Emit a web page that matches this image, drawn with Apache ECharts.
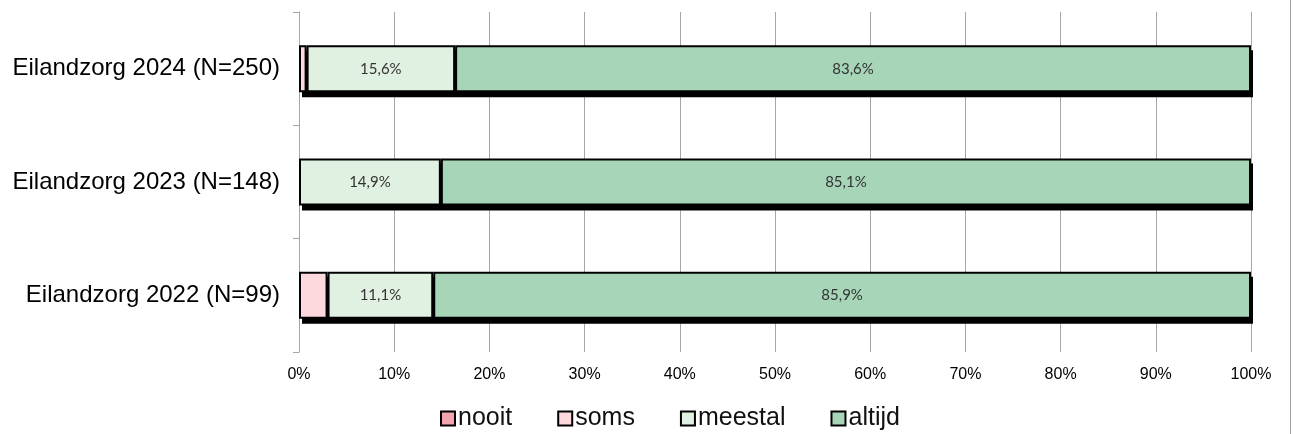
<!DOCTYPE html>
<html><head><meta charset="utf-8">
<script src="https://cdn.jsdelivr.net/npm/echarts@6/dist/echarts.min.js"></script>
<style>html,body{margin:0;padding:0;background:#fff}#c{width:1293px;height:434px}</style>
</head><body><div id="c"></div>
<script>
const categories = ['Eilandzorg 2024 (N=250)', 'Eilandzorg 2023 (N=148)', 'Eilandzorg 2022 (N=99)'];
const seriesNames = ['nooit', 'soms', 'meestal', 'altijd'];
const nooit = [0, 0, 0];
const soms = [0.8, 0, 3.0];
const meestal = [15.6, 14.9, 11.1];
const altijd = [83.6, 85.1, 85.9];
const xTicks = [0, 10, 20, 30, 40, 50, 60, 70, 80, 90, 100];
const colors = ['#F4A3B3', '#FDD9DE', '#E0F0E1', '#A6D5B8'];
const values = [nooit, soms, meestal, altijd];
const labelMin = 10;
const BAR_H = 47;

const totals = categories.map((c, i) => values.reduce((s, arr) => s + arr[i], 0));

const chart = echarts.init(document.getElementById('c'), null, {renderer: 'canvas'});
const barSeries = seriesNames.map((n, i) => ({
  name: n, type: 'bar', stack: 'a', barWidth: BAR_H, z: 3,
  data: values[i].map(v => v === 0 ? '-' : v),
  itemStyle: {color: colors[i], borderColor: '#000', borderWidth: 2},
  label: {show: true, position: 'inside', fontFamily: 'Lato', fontSize: 15, color: '#333',
    formatter: p => p.value >= labelMin ? p.value.toFixed(1).replace('.', ',') + '%' : ''},
  emphasis: {disabled: true}
}));
const shadowSeries = {
  type: 'custom', z: 2, silent: true,
  data: totals.map((t, i) => [t, i]),
  encode: {x: 0, y: 1},
  renderItem: (params, api) => {
    const p0 = api.coord([0, api.value(1)]);
    const p1 = api.coord([api.value(0), api.value(1)]);
    return {type: 'rect', shape: {x: p0[0] + 3, y: p0[1] - BAR_H / 2 + 5, width: p1[0] - p0[0] - 1, height: BAR_H},
      style: {fill: '#000'}};
  }
};
chart.setOption({
  animation: false,
  grid: {left: 299, right: 42, top: 12, bottom: 82},
  legend: {top: 401, left: 435, itemGap: 45, itemWidth: 14, itemHeight: 14, icon: 'rect',
    data: seriesNames.map((n, i) => ({name: n, itemStyle: {color: colors[i], borderColor: '#000', borderWidth: 2}})),
    textStyle: {fontFamily: 'Liberation Sans', fontSize: 25, color: '#111', padding: [0, 0, 0, -2]}},
  xAxis: {type: 'value', min: xTicks[0], max: xTicks[xTicks.length - 1], interval: xTicks[1] - xTicks[0],
    axisLabel: {formatter: '{value}%', fontFamily: 'Liberation Sans', fontSize: 16, color: '#000', margin: 15},
    axisLine: {show: false}, axisTick: {show: false},
    splitLine: {lineStyle: {color: '#A6A6A6', width: 1}}},
  yAxis: {type: 'category', data: categories, inverse: true,
    axisLabel: {fontFamily: 'Liberation Sans', fontSize: 24, color: '#000', margin: 19},
    axisLine: {lineStyle: {color: '#A6A6A6', width: 1}},
    axisTick: {show: true, length: 6, lineStyle: {color: '#A6A6A6'}}},
  graphic: [{type: 'line', shape: {x1: 1290.5, y1: 0, x2: 1290.5, y2: 434}, style: {stroke: '#A0A0A0', lineWidth: 1}}],
  series: [shadowSeries, ...barSeries]
});
</script></body></html>
